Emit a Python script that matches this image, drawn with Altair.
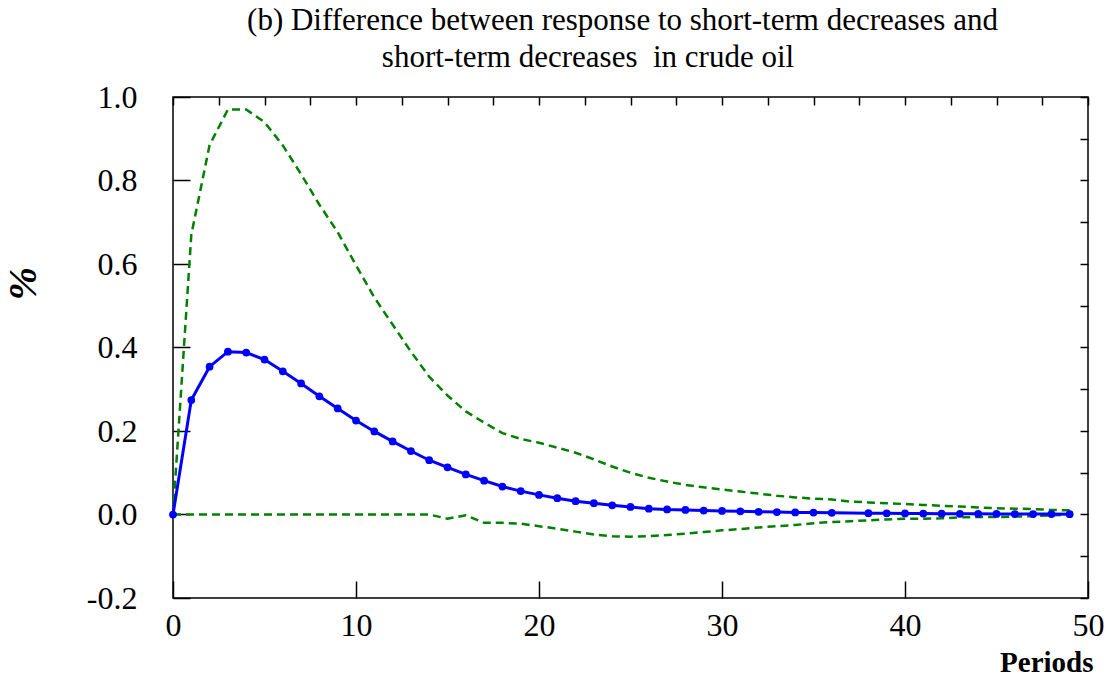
import altair as alt
import pandas as pd

periods = list(range(50))
response = [0.0, 0.274, 0.354, 0.390, 0.388, 0.371, 0.343, 0.314, 0.283, 0.254,
            0.225, 0.199, 0.175, 0.152, 0.130, 0.113, 0.096, 0.081, 0.067, 0.056,
            0.047, 0.039, 0.032, 0.027, 0.022, 0.018, 0.014, 0.012, 0.011, 0.0095,
            0.0085, 0.0075, 0.0065, 0.0057, 0.005, 0.0045, 0.004, 0.0035, 0.003, 0.0027,
            0.0024, 0.0021, 0.0019, 0.0017, 0.0015, 0.0013, 0.0011, 0.001, 0.0009, 0.0008]
upper = [0.0, 0.67, 0.885, 0.97, 0.97, 0.94, 0.884, 0.815, 0.742, 0.676,
         0.597, 0.52, 0.455, 0.39, 0.33, 0.285, 0.247, 0.22, 0.195, 0.181,
         0.172, 0.160, 0.148, 0.132, 0.115, 0.100, 0.088, 0.079, 0.071, 0.065,
         0.060, 0.055, 0.050, 0.045, 0.041, 0.038, 0.036, 0.031, 0.029, 0.027,
         0.025, 0.023, 0.021, 0.019, 0.017, 0.015, 0.014, 0.013, 0.011, 0.010]
lower = [0.0, 0.0, 0.0, 0.0, 0.0, 0.0, 0.0, 0.0, 0.0, 0.0,
         0.0, 0.0, 0.0, 0.0, 0.0, -0.010, -0.002, -0.020, -0.020, -0.022,
         -0.028, -0.034, -0.041, -0.048, -0.052, -0.053, -0.052, -0.049, -0.046, -0.042,
         -0.038, -0.035, -0.031, -0.028, -0.025, -0.021, -0.018, -0.016, -0.014, -0.012,
         -0.010, -0.010, -0.009, -0.007, -0.006, -0.006, -0.005, -0.004, -0.002, -0.001]
missing_dots = [37]

x_major = [0, 10, 20, 30, 40, 50]
x_minor = [i * 2.5 for i in range(21)]
y_major = [-0.2, 0.0, 0.2, 0.4, 0.6, 0.8, 1.0]
y_minor = [round(-0.2 + 0.1 * i, 1) for i in range(13)]

title_lines = ["(b) Difference between response to short-term decreases and",
               "short-term decreases\u00a0 in crude oil" + "\u2800" * 3]

df = pd.DataFrame({"period": periods, "response": response,
                   "upper": upper, "lower": lower})
df["dot"] = [p not in missing_dots for p in periods]

SERIF = "Liberation Serif"
xs = alt.Scale(domain=[0, 50], nice=False)
ys = alt.Scale(domain=[-0.2, 1.0], nice=False)

common_axis = dict(domain=False, grid=False, tickColor="black", tickWidth=1.5,
                   labelFont=SERIF, labelColor="black")

x_axis_major = alt.Axis(values=x_major, tickSize=17, offset=-17, labelPadding=12,
                        labelFontSize=32,
                        title="Periods", titleFont=SERIF, titleFontSize=29,
                        titleFontWeight="bold", titleColor="black",
                        titleX=920, titleY=90, titleAlign="right",
                        titleBaseline="alphabetic", titleAngle=0,
                        labelFlush=False, **common_axis)
y_axis_major = alt.Axis(values=y_major, tickSize=17, offset=-17, labelPadding=36,
                        labelFontSize=32,
                        labelExpr="datum.value < 0 ? '-' + format(-datum.value, '.1f') : format(datum.value, '.1f')",
                        title="%", titleFont=SERIF, titleFontSize=40,
                        titleFontWeight="bold", titleFontStyle="italic",
                        titleColor="black", titleX=-167, titleY=186,
                        titleAlign="center", titleBaseline="middle", titleAngle=270,
                        labelFlush=False, **common_axis)
x_axis_minor = alt.Axis(values=x_minor, tickSize=8, offset=-8, labels=False,
                        title=None, domain=False, grid=False, tickColor="black",
                        tickWidth=1.5)
y_axis_minor = alt.Axis(values=y_minor, tickSize=8, offset=-8, labels=False,
                        title=None, domain=False, grid=False, tickColor="black",
                        tickWidth=1.5)

base = alt.Chart(df)

upper_line = base.mark_line(color="#008000", strokeDash=[8, 5], strokeWidth=2.5).encode(
    x=alt.X("period:Q", scale=xs, axis=x_axis_major),
    y=alt.Y("upper:Q", scale=ys, axis=y_axis_major),
)
lower_line = base.mark_line(color="#008000", strokeDash=[8, 5], strokeWidth=2.5).encode(
    x=alt.X("period:Q", scale=xs, axis=x_axis_minor),
    y=alt.Y("lower:Q", scale=ys, axis=y_axis_minor),
)
resp_line = base.mark_line(color="#0000FF", strokeWidth=3).encode(
    x=alt.X("period:Q", scale=xs, axis=None),
    y=alt.Y("response:Q", scale=ys, axis=None),
)
resp_dots = base.transform_filter("datum.dot").mark_circle(
    color="#0000FF", size=60, opacity=1).encode(
    x=alt.X("period:Q", scale=xs, axis=None),
    y=alt.Y("response:Q", scale=ys, axis=None),
)

chart = alt.layer(upper_line, lower_line, resp_line, resp_dots).resolve_axis(
    x="independent", y="independent"
).properties(
    width=915, height=501,
    autosize=alt.AutoSizeParams(type="none"),
    padding={"left": 165, "top": 89, "right": 16, "bottom": 75},
    title=alt.TitleParams(text=title_lines, font=SERIF, fontSize=31,
                          fontWeight="normal", color="black", anchor="middle",
                          lineHeight=37, dx=-8, offset=7),
).configure_view(stroke="black", strokeWidth=1.5)

chart.save("out.html", embed_options={"renderer": "svg", "actions": False})
